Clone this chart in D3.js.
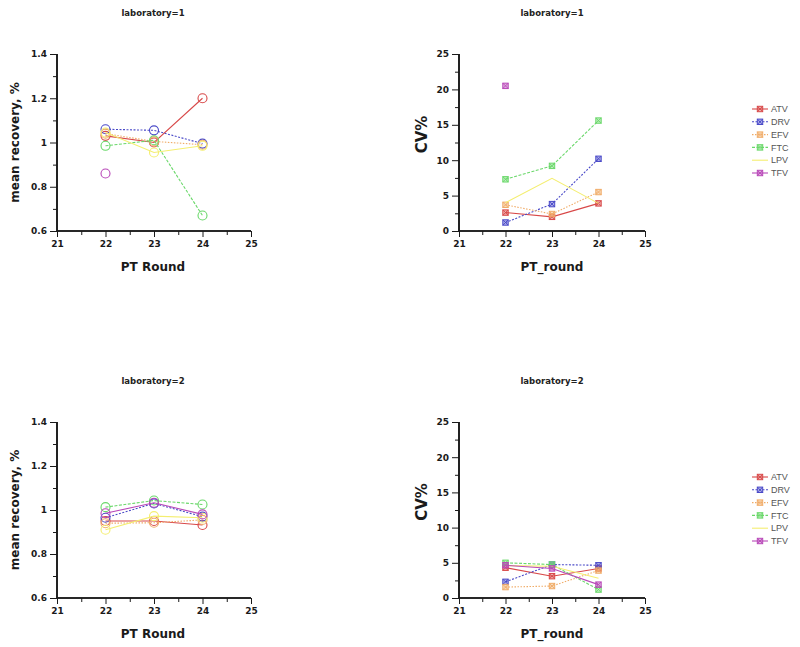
<!DOCTYPE html>
<html><head><meta charset="utf-8">
<script src="https://cdn.jsdelivr.net/npm/d3@7"></script>
<style>body{margin:0;background:#fff}svg{display:block}</style>
</head><body>
<script>
// ---- data ----
const rounds = [22, 23, 24];
const drugs = ["ATV", "DRV", "EFV", "FTC", "LPV", "TFV"];
const colors = ["#d84848", "#4a4ac8", "#f0ac68", "#6ad86a", "#f4ee70", "#b848b8"];
const dashes = [null, "2,1.5", "1.5,1.5", "3,1.5", null, null];
const cvMarkers = [true, true, true, true, false, true];

// mean recovery, laboratory 1 (rows follow drugs)
const lab1Recovery = [
  [1.03, 1.00, 1.20],
  [1.06, 1.055, 0.995],
  [1.04, 1.005, 0.99],
  [0.985, 1.01, 0.67],
  [1.045, 0.955, 0.985],
  [0.86, null, null]
];
// CV%, laboratory 1
const lab1CV = [
  [2.6, 2.0, 3.9],
  [1.2, 3.8, 10.2],
  [3.7, 2.4, 5.5],
  [7.3, 9.2, 15.6],
  [4.0, 7.45, 3.9],
  [20.5, null, null]
];
// mean recovery, laboratory 2
const lab2Recovery = [
  [0.95, 0.95, 0.932],
  [0.965, 1.03, 0.97],
  [0.94, 0.942, 0.955],
  [1.013, 1.043, 1.025],
  [0.91, 0.972, 0.965],
  [0.985, 1.033, 0.98]
];
// CV%, laboratory 2
const lab2CV = [
  [4.3, 3.1, 4.2],
  [2.3, 4.75, 4.65],
  [1.55, 1.7, 3.9],
  [5.0, 4.75, 1.2],
  [4.6, 4.5, 2.8],
  [4.65, 4.2, 1.9]
];

const xMajor = [21, 22, 23, 24, 25];
const xMinor = [21.5, 22.5, 23.5, 24.5];
const recMajor = [0.6, 0.8, 1.0, 1.2, 1.4];
const recMinor = [0.7, 0.9, 1.1, 1.3];
const cvMajor = [0, 5, 10, 15, 20, 25];
const cvMinor = [2.5, 7.5, 12.5, 17.5, 22.5];

// ---- drawing ----
const W = 800, H = 647;
const svg = d3.select("body").append("svg").attr("width", W).attr("height", H);
const FONT = "DejaVu Sans, Verdana, sans-serif";

const panels = [
  {lab: 1, kind: "rec", data: lab1Recovery, x0: 57, x1: 251, y0: 54, y1: 231},
  {lab: 1, kind: "cv", data: lab1CV, x0: 459, x1: 645, y0: 54, y1: 231},
  {lab: 2, kind: "rec", data: lab2Recovery, x0: 57, x1: 251, y0: 422, y1: 598},
  {lab: 2, kind: "cv", data: lab2CV, x0: 459, x1: 645, y0: 422, y1: 598}
];

function markerCircle(g, x, y, c) {
  g.append("circle").attr("cx", x).attr("cy", y).attr("r", 4.5)
    .attr("fill", "none").attr("stroke", c).attr("stroke-width", 1.1);
}
function markerBox(g, x, y, c) {
  const s = 2.7;
  g.append("rect").attr("x", x - s).attr("y", y - s).attr("width", 2 * s).attr("height", 2 * s)
    .attr("fill", c).attr("fill-opacity", 0.45).attr("stroke", c).attr("stroke-width", 1);
  g.append("path").attr("d", `M${x - s},${y - s}L${x + s},${y + s}M${x + s},${y - s}L${x - s},${y + s}`)
    .attr("stroke", c).attr("stroke-width", 0.9);
}

panels.forEach(p => {
  const g = svg.append("g");
  const x = d3.scaleLinear().domain([21, 25]).range([p.x0, p.x1]);
  const y = p.kind === "rec"
    ? d3.scaleLinear().domain([0.6, 1.4]).range([p.y1, p.y0])
    : d3.scaleLinear().domain([0, 25]).range([p.y1, p.y0]);
  const major = p.kind === "rec" ? recMajor : cvMajor;
  const minor = p.kind === "rec" ? recMinor : cvMinor;

  // axes
  const ax = g.append("g").attr("transform", `translate(0,${p.y1})`)
    .call(d3.axisBottom(x).tickValues(xMajor).tickSize(6).tickPadding(4).tickFormat(d3.format("d")));
  const axm = g.append("g").attr("transform", `translate(0,${p.y1})`)
    .call(d3.axisBottom(x).tickValues(xMinor).tickSize(4).tickFormat(""));
  const ay = g.append("g").attr("transform", `translate(${p.x0},0)`)
    .call(d3.axisLeft(y).tickValues(major).tickSize(7).tickPadding(3).tickFormat(d => d3.format("~g")(d)));
  const aym = g.append("g").attr("transform", `translate(${p.x0},0)`)
    .call(d3.axisLeft(y).tickValues(minor).tickSize(4).tickFormat(""));
  [ax, axm, ay, aym].forEach(a => {
    a.select(".domain").attr("stroke", "#1a1a1a").attr("stroke-width", 1.6);
    a.selectAll(".tick line").attr("stroke", "#1a1a1a").attr("stroke-width", 1);
    a.selectAll("text").attr("font-family", FONT).attr("font-size", 9).attr("font-weight", "bold").attr("fill", "#1a1a1a");
  });
  [ax, axm].forEach(a => a.select(".domain").attr("d", `M${p.x0},0H${p.x1}`));
  [ay, aym].forEach(a => a.select(".domain").attr("d", `M0,${p.y0}V${p.y1}`));

  const cx = (p.x0 + p.x1) / 2 + (p.kind === "rec" ? -1 : 0);
  // title
  g.append("text").attr("x", cx).attr("y", p.y0 - 38).attr("text-anchor", "middle")
    .attr("font-family", FONT).attr("font-size", 8.5).attr("font-weight", "bold").attr("fill", "#222")
    .text(`laboratory=${p.lab}`);
  // x label
  g.append("text").attr("x", cx).attr("y", p.y1 + 40).attr("text-anchor", "middle")
    .attr("font-family", FONT).attr("font-size", 12).attr("font-weight", "bold").attr("fill", "#1a1a1a")
    .text(p.kind === "rec" ? "PT Round" : "PT_round");
  // y label
  const yl = p.kind === "rec" ? {x: 19, t: "mean recovery, %", fs: 12} : {x: p.x0 - 32, t: "CV%", fs: 15};
  g.append("text").attr("transform", `translate(${yl.x},${(p.y0 + p.y1) / 2 - (p.kind === "cv" ? 8 : 0)}) rotate(-90)`)
    .attr("text-anchor", "middle").attr("font-family", FONT).attr("font-size", yl.fs)
    .attr("font-weight", "bold").attr("fill", "#1a1a1a").text(yl.t);

  // series
  const line = d3.line().defined(d => d[1] != null).x(d => x(d[0])).y(d => y(d[1]));
  p.data.forEach((vals, i) => {
    const pts = rounds.map((r, j) => [r, vals[j]]);
    const path = g.append("path").datum(pts).attr("d", line).attr("fill", "none")
      .attr("stroke", colors[i]).attr("stroke-width", 1.1);
    if (dashes[i]) path.attr("stroke-dasharray", dashes[i]);
    pts.filter(d => d[1] != null).forEach(d => {
      if (p.kind === "rec") markerCircle(g, x(d[0]), y(d[1]), colors[i]);
      else if (cvMarkers[i]) markerBox(g, x(d[0]), y(d[1]), colors[i]);
    });
  });

  // legend
  if (p.kind === "cv") {
    const ly0 = p.y0 + 55;
    drugs.forEach((dname, i) => {
      const ly = ly0 + i * 12.8;
      const ln = g.append("line").attr("x1", 752).attr("x2", 768).attr("y1", ly).attr("y2", ly)
        .attr("stroke", colors[i]).attr("stroke-width", 1.1);
      if (dashes[i]) ln.attr("stroke-dasharray", dashes[i]);
      if (cvMarkers[i]) markerBox(g, 760, ly, colors[i]);
      g.append("text").attr("x", 771).attr("y", ly + 3.2).attr("font-family", "Liberation Sans, Arial, sans-serif")
        .attr("font-size", 9).attr("fill", "#555").text(dname);
    });
  }
});
</script>
</body></html>
